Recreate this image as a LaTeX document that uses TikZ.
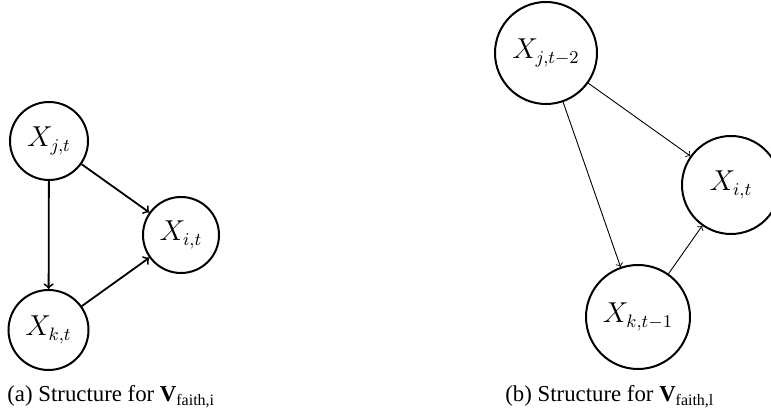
\documentclass[tikz,border=0pt]{standalone}
\usepackage{fontspec}
\newfontfamily\capfont{Liberation Serif}
\begin{document}
\begin{tikzpicture}[x=0.5pt,y=-0.5pt,
  var/.style={circle,draw,line width=1pt,inner sep=0pt,font=\fontsize{13.4}{16}\selectfont},
  leftarr/.style={->,line width=0.9pt},
  rightarr/.style={->,line width=0.45pt},
  captext/.style={anchor=base west,inner sep=0pt,font=\capfont\fontsize{11.4}{13}\selectfont}]
\useasboundingbox (0,0) rectangle (771,416);
% (a)
\node[var,minimum size=39pt] (aj) at (49,141) {$X_{j,t}$};
\node[var,minimum size=38pt] (ai) at (181,235) {$X_{i,t}$};
\node[var,minimum size=40pt] (ak) at (48.5,330) {$X_{k,t}$};
\draw[leftarr] (aj) -- (ai);
\draw[leftarr] (aj) -- (ak);
\draw[leftarr] (ak) -- (ai);
% (b)
\node[var,minimum size=51pt] (bj) at (546,53) {$X_{j,t-2}$};
\node[var,minimum size=49pt] (bi) at (731,185) {$X_{i,t}$};
\node[var,minimum size=52pt] (bk) at (638,317) {$X_{k,t-1}$};
\draw[rightarr] (bj) -- (bi);
\draw[rightarr] (bj) -- (bk);
\draw[rightarr] (bk) -- (bi);
% captions
\node[captext] (capa) at (7,402) {(a) Structure for {\bfseries V}\textsubscript{faith,i}};
\node[captext] (capb) at (505,402) {(b) Structure for {\bfseries V}\textsubscript{faith,l}};
\end{tikzpicture}
\end{document}
